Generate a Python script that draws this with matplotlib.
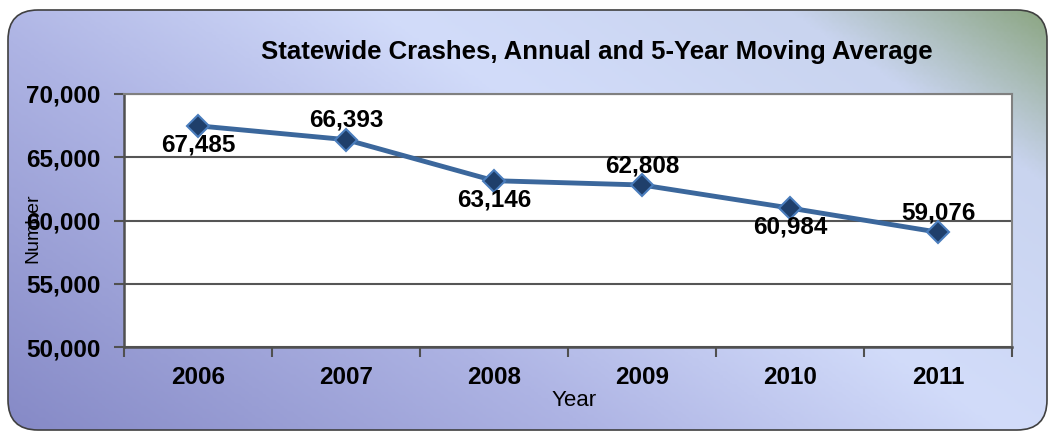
import numpy as np
import matplotlib
matplotlib.use("Agg")
import matplotlib.pyplot as plt
from matplotlib.patches import FancyBboxPatch
from matplotlib.colors import LinearSegmentedColormap

years = ["2006", "2007", "2008", "2009", "2010", "2011"]
crashes = [67485, 66393, 63146, 62808, 60984, 59076]
label_pos = ["below", "above", "below", "above", "below", "above"]
yticks = [50000, 55000, 60000, 65000, 70000]

W, H = 1049, 432
fig = plt.figure(figsize=(W / 100, H / 100), dpi=100)
fig.patch.set_facecolor("white")

# Background panel with gradient
bg = fig.add_axes([0, 0, 1, 1], zorder=0)
bg.set_xlim(0, W)
bg.set_ylim(H, 0)
bg.axis("off")
xx, yy = np.meshgrid(np.linspace(0, 1, 300), np.linspace(0, 1, 150))
t = 0.62 * xx + 0.38 * (1 - yy)
cmap = LinearSegmentedColormap.from_list(
    "panel",
    [(0.0, "#8589c6"), (0.35, "#aeb4e4"), (0.6, "#d2dcfa"), (0.84, "#c9d4ef"),
     (1.0, "#88a37c")])
im = bg.imshow(t, cmap=cmap, extent=[0, W, H, 0], aspect="auto", vmin=0, vmax=1)
panel = FancyBboxPatch((8, 10), 1039, 420, boxstyle="round,pad=0,rounding_size=30",
                       facecolor="none", edgecolor="#404040", linewidth=1.2)
bg.add_patch(panel)
im.set_clip_path(panel)

ax = fig.add_axes([124 / W, 85 / H, 888 / W, 253 / H], zorder=1)
ax.set_facecolor("white")
x = np.arange(len(years))
ax.plot(x, crashes, color="#3b679c", linewidth=3.5, marker="D", markersize=11,
        markerfacecolor="#1f3f6b", markeredgecolor="#4a7dbd", markeredgewidth=1.5,
        zorder=3)

fs = 17.5
for xi, v, p in zip(x, crashes, label_pos):
    off = -14 if p == "below" else 14
    ax.annotate(f"{v:,}", (xi, v), xytext=(0, off), textcoords="offset points",
                ha="center", va="center", fontsize=fs, fontweight="bold",
                family="Liberation Sans", color="black", zorder=4)

ax.set_xlim(-0.5, len(years) - 0.5)
ax.set_ylim(50000, 70000)
ax.set_yticks(yticks)
ax.set_yticklabels([f"{v:,}" for v in yticks], fontsize=fs, fontweight="bold",
                   family="Liberation Sans")
ax.set_xticks(x)
ax.set_xticklabels(years, fontsize=fs, fontweight="bold", family="Liberation Sans")
ax.set_xticks(np.arange(-0.5, len(years)), minor=True)
ax.tick_params(axis="x", which="major", length=0, pad=14)
ax.tick_params(axis="x", which="minor", length=7, width=1.5, color="#505050", direction="out")
ax.tick_params(axis="y", which="major", length=7, width=1.5, color="#505050", pad=10)
ax.grid(axis="y", color="#555555", linewidth=1.5)
ax.set_axisbelow(True)
for s in ["left", "bottom"]:
    ax.spines[s].set_color("#505050")
    ax.spines[s].set_linewidth(1.8)
for s in ["top", "right"]:
    ax.spines[s].set_color("#808080")
    ax.spines[s].set_linewidth(1.5)

fig.text(597 / W, 1 - 52 / H, "Statewide Crashes, Annual and 5-Year Moving Average",
         ha="center", va="center", fontsize=18.5, fontweight="bold",
         family="Liberation Sans", zorder=5)
fig.text(33 / W, 1 - 228 / H, "Number", rotation=90, ha="center", va="center",
         fontsize=14, family="Liberation Sans", zorder=5)
fig.text(574 / W, 1 - 401 / H, "Year", ha="center", va="center",
         fontsize=16, family="Liberation Sans", zorder=5)

fig.savefig("out.png", dpi=100)
